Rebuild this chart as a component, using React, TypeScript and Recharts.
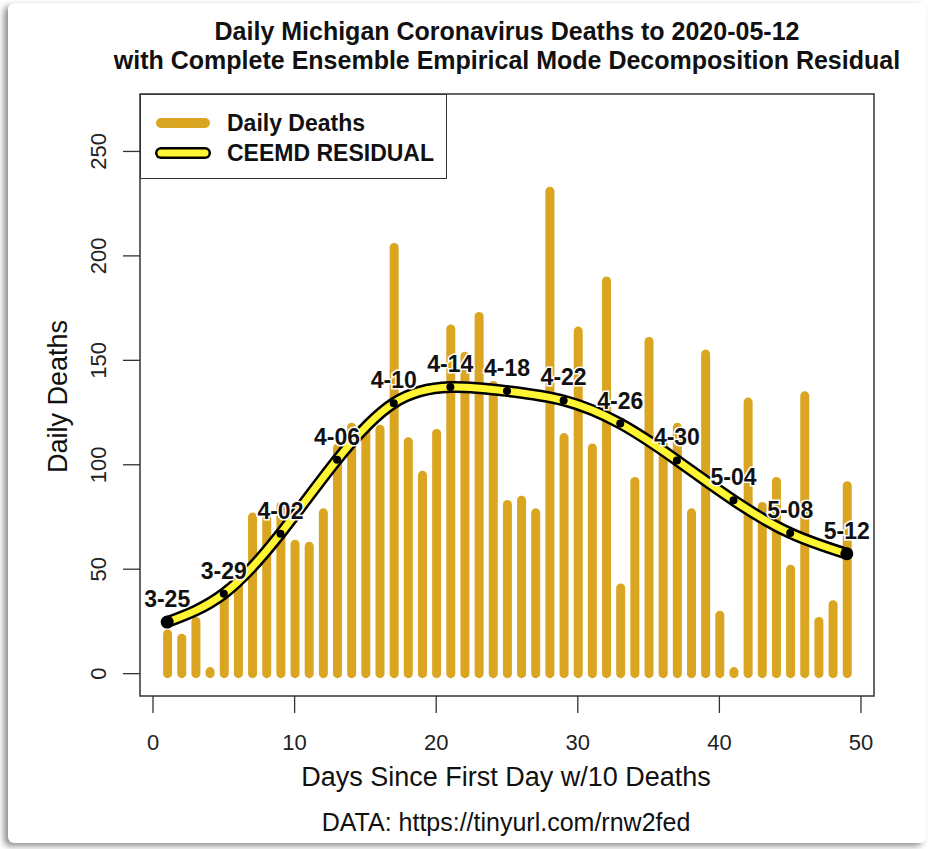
import React from 'react';
import { ComposedChart, Bar, Line, XAxis, YAxis, ReferenceArea, Legend, LabelList } from 'recharts';

const FONT = '"Liberation Sans", Arial, Helvetica, sans-serif';
const BAR_COLOR = '#DAA520';
const CURVE_YELLOW = '#FFF533';

// days since first day with 10 deaths
const DAYS = [
  1, 2, 3, 4, 5, 6, 7, 8, 9, 10, 11, 12, 13, 14, 15, 16, 17, 18, 19, 20, 21, 22, 23, 24, 25,
  26, 27, 28, 29, 30, 31, 32, 33, 34, 35, 36, 37, 38, 39, 40, 41, 42, 43, 44, 45, 46, 47, 48, 49,
];
const DAILY_DEATHS = [
  19, 17, 25, 1, 36, 43, 75, 74, 80, 62, 61, 77, 108, 118, 118, 117, 204, 111, 95, 115, 165, 152, 171, 138, 81,
  83, 77, 231, 113, 164, 108, 188, 41, 92, 159, 112, 118, 77, 153, 28, 1, 130, 80, 92, 50, 133, 25, 33, 90,
];

// CEEMD residual, read at the labelled days
const RESIDUAL_DAYS = [1, 5, 9, 13, 17, 21, 25, 29, 33, 37, 41, 45, 49];
const RESIDUAL_VALUES = [24.7, 38.3, 67, 102.4, 129.5, 137.2, 135.3, 130.8, 119.7, 102.1, 83, 67.3, 57.4];
const RESIDUAL_LABELS = ['3-25', '3-29', '4-02', '4-06', '4-10', '4-14', '4-18', '4-22', '4-26', '4-30', '5-04', '5-08', '5-12'];

const X_TICKS = [0, 10, 20, 30, 40, 50];
const Y_TICKS = [0, 50, 100, 150, 200, 250];
const X_DOMAIN: [number, number] = [-0.92, 50.92];
const Y_DOMAIN: [number, number] = [-10.7, 277.5];

const deathsData = DAYS.map((day, i) => ({ day, deaths: DAILY_DEATHS[i] }));
const residualData = RESIDUAL_DAYS.map((day, i) => ({ day, residual: RESIDUAL_VALUES[i], label: RESIDUAL_LABELS[i] }));

const RoundBar = (props: any) => {
  const { x, y, width, height } = props;
  const cx = x + width / 2;
  return <line x1={cx} x2={cx} y1={y} y2={y + height} stroke={BAR_COLOR} strokeWidth={9} strokeLinecap="round" />;
};

const ResidualDot = (props: any) => {
  const { cx, cy, index } = props;
  const isEnd = index === 0 || index === RESIDUAL_DAYS.length - 1;
  return <circle key={`dot-${index}`} cx={cx} cy={cy} r={isEnd ? 6.5 : 4} fill="#000" />;
};

const YTick = ({ x, y, payload }: any) => (
  <text transform={`translate(${x - 15},${y}) rotate(-90)`} textAnchor="middle" fontSize={22} fill="#222" fontFamily={FONT}>
    {payload.value}
  </text>
);

const XTick = ({ x, y, payload }: any) => (
  <text x={x} y={y + 35} textAnchor="middle" fontSize={22} fill="#222" fontFamily={FONT}>
    {payload.value}
  </text>
);

const LegendBox = () => (
  <div
    style={{
      width: 307,
      height: 85,
      boxSizing: 'border-box',
      border: '1.5px solid #333',
      background: '#fff',
      fontFamily: FONT,
      fontWeight: 'bold',
      fontSize: 23,
      color: '#111',
    }}
  >
    <div style={{ display: 'flex', alignItems: 'center', height: 28, marginTop: 14 }}>
      <svg width={86} height={20} style={{ marginLeft: 0 }}>
        <line x1={20} x2={64} y1={10} y2={10} stroke={BAR_COLOR} strokeWidth={10} strokeLinecap="round" />
      </svg>
      <span>Daily Deaths</span>
    </div>
    <div style={{ display: 'flex', alignItems: 'center', height: 28, marginTop: 2 }}>
      <svg width={86} height={20}>
        <line x1={20} x2={64} y1={10} y2={10} stroke="#000" strokeWidth={12} strokeLinecap="round" />
        <line x1={20} x2={64} y1={10} y2={10} stroke={CURVE_YELLOW} strokeWidth={7} strokeLinecap="round" />
      </svg>
      <span>CEEMD RESIDUAL</span>
    </div>
  </div>
);

const textBase: React.CSSProperties = {
  position: 'absolute',
  fontFamily: FONT,
  color: '#111',
  whiteSpace: 'nowrap',
  textAlign: 'center',
  lineHeight: 1,
};

export default function App() {
  return (
    <div style={{ position: 'absolute', left: 0, top: 0, width: 932, height: 849, background: '#fff', overflow: 'hidden' }}>
      <div
        style={{
          position: 'absolute',
          left: 8,
          top: 3,
          width: 918,
          height: 840,
          background: '#fff',
          borderRadius: 6,
          boxShadow: '-4px 3px 6px rgba(0,0,0,0.45)',
        }}
      />
      <div style={{ ...textBase, left: 107, width: 800, top: 17, fontSize: 25, fontWeight: 'bold', lineHeight: '29px' }}>
        Daily Michigan Coronavirus Deaths to 2020-05-12
        <br />
        with Complete Ensemble Empirical Mode Decomposition Residual
      </div>
      <div style={{ position: 'absolute', left: 0, top: 0 }}>
        <ComposedChart width={932} height={849} data={deathsData} margin={{ top: 94, right: 58, bottom: 93, left: 80 }}>
          <XAxis
            dataKey="day"
            type="number"
            domain={X_DOMAIN}
            ticks={X_TICKS}
            allowDataOverflow
            height={60}
            axisLine={false}
            tickLine={{ stroke: '#333', strokeWidth: 1.3 }}
            tickSize={17}
            tickMargin={2}
            tick={<XTick />}
          />
          <YAxis
            type="number"
            domain={Y_DOMAIN}
            ticks={Y_TICKS}
            allowDataOverflow
            width={60}
            axisLine={false}
            tickLine={{ stroke: '#333', strokeWidth: 1.3 }}
            tickSize={17}
            tickMargin={2}
            tick={<YTick />}
          />
          <Bar dataKey="deaths" barSize={9} shape={<RoundBar />} isAnimationActive={false} />
          <Line
            data={residualData}
            dataKey="residual"
            type="natural"
            stroke="#000"
            strokeWidth={12}
            strokeLinecap="round"
            dot={false}
            activeDot={false}
            isAnimationActive={false}
          />
          <Line
            data={residualData}
            dataKey="residual"
            type="natural"
            stroke={CURVE_YELLOW}
            strokeWidth={7}
            strokeLinecap="round"
            dot={<ResidualDot />}
            activeDot={false}
            isAnimationActive={false}
          >
            <LabelList
              dataKey="label"
              content={(p: any) => (
                <text
                  x={p.x}
                  y={p.y - 15}
                  textAnchor="middle"
                  fontSize={23}
                  fontWeight="bold"
                  fontFamily={FONT}
                  fill="#111"
                  stroke="#fff"
                  strokeWidth={3}
                  paintOrder="stroke"
                >
                  {p.value}
                </text>
              )}
            />
          </Line>
          <ReferenceArea
            x1={X_DOMAIN[0]}
            x2={X_DOMAIN[1]}
            y1={Y_DOMAIN[0]}
            y2={Y_DOMAIN[1]}
            fill="none"
            fillOpacity={0}
            stroke="#333"
            strokeWidth={1.5}
            ifOverflow="visible"
          />
          <Legend
            layout="vertical"
            align="center"
            verticalAlign="middle"
            content={() => <LegendBox />}
            wrapperStyle={{ left: 140, top: 94, width: 307, height: 85 }}
          />
        </ComposedChart>
      </div>
      <div style={{ ...textBase, left: 206, width: 600, top: 764, fontSize: 27 }}>Days Since First Day w/10 Deaths</div>
      <div style={{ ...textBase, left: 206, width: 600, top: 810, fontSize: 25 }}>DATA: https://tinyurl.com/rnw2fed</div>
      <div
        style={{
          ...textBase,
          left: 58 - 150,
          width: 300,
          top: 396 - 13.5,
          fontSize: 27,
          transform: 'rotate(-90deg)',
        }}
      >
        Daily Deaths
      </div>
    </div>
  );
}
